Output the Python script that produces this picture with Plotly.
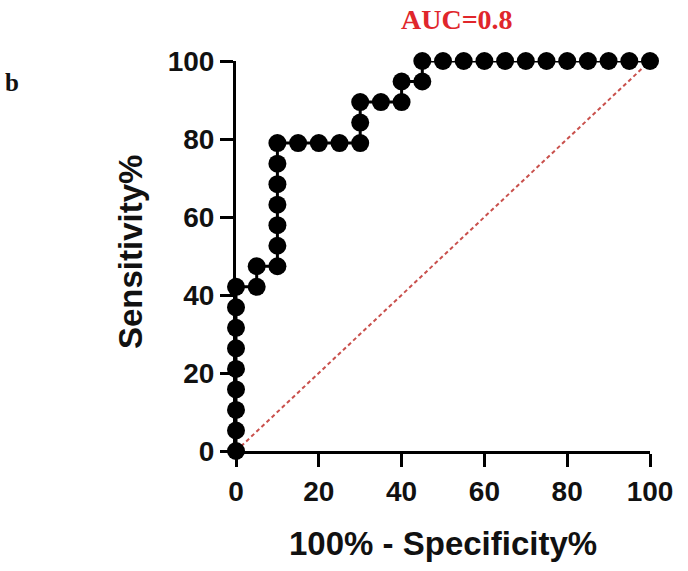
import plotly.graph_objects as go

# ROC curve points (100% - Specificity%, Sensitivity%)
fpr = [0, 0, 0, 0, 0, 0, 0, 0, 0,
       5, 5, 10, 10, 10, 10, 10, 10, 10,
       15, 20, 25, 30, 30, 30, 35, 40, 40, 45, 45,
       50, 55, 60, 65, 70, 75, 80, 85, 90, 95, 100]
tpr = [0, 5.26, 10.53, 15.79, 21.05, 26.32, 31.58, 36.84, 42.11,
       42.11, 47.37, 47.37, 52.63, 57.89, 63.16, 68.42, 73.68, 78.95,
       78.95, 78.95, 78.95, 78.95, 84.21, 89.47, 89.47, 89.47, 94.74, 94.74, 100,
       100, 100, 100, 100, 100, 100, 100, 100, 100, 100, 100]
ref_x = [0, 100]
ref_y = [0, 100]
tick_vals = [0, 20, 40, 60, 80, 100]
auc_text = "AUC=0.8"
panel_label = "b"

fig = go.Figure()
fig.add_trace(go.Scatter(x=ref_x, y=ref_y, mode="lines",
                         line=dict(color="#c9504c", width=2, dash="4px,3px"),
                         cliponaxis=False, showlegend=False))
fig.add_trace(go.Scatter(x=fpr, y=tpr, mode="lines+markers",
                         line=dict(color="black", width=3),
                         marker=dict(color="black", size=18),
                         cliponaxis=False, showlegend=False))

axis_common = dict(range=[0, 100], tickvals=tick_vals, showgrid=False, zeroline=False,
                   showline=True, linecolor="black", linewidth=3,
                   ticks="outside", ticklen=13, tickwidth=3, tickcolor="black",
                   tickfont=dict(family="Liberation Sans, Arial", size=28, color="#111",
                                 weight="bold"))
fig.update_xaxes(**axis_common)
fig.update_yaxes(**axis_common)

W, H = 414, 390
fig.update_layout(
    width=688, height=571,
    margin=dict(l=236, r=38, t=61, b=120),
    plot_bgcolor="white", paper_bgcolor="white",
    annotations=[
        dict(text="<b>100% - Specificity%</b>", xref="paper", yref="paper",
             x=(443 - 236) / W, y=-(543 - 451) / H, xanchor="center", yanchor="middle",
             showarrow=False, font=dict(family="Liberation Sans, Arial", size=33, color="#111")),
        dict(text="<b>Sensitivity%</b>", xref="paper", yref="paper", textangle=-90,
             x=-(236 - 130) / W, y=(451 - 252) / H, xanchor="center", yanchor="middle",
             showarrow=False, font=dict(family="Liberation Sans, Arial", size=33, color="#111")),
        dict(text="<b>" + auc_text + "</b>", xref="paper", yref="paper",
             x=(457 - 236) / W, y=(451 - 20) / H, xanchor="center", yanchor="middle",
             showarrow=False, font=dict(family="Liberation Serif, Times New Roman", size=28, color="#e0262b")),
        dict(text="<b>" + panel_label + "</b>", xref="paper", yref="paper",
             x=-(236 - 12) / W, y=(451 - 82) / H, xanchor="center", yanchor="middle",
             showarrow=False, font=dict(family="Liberation Serif, Times New Roman", size=25, color="#111")),
    ],
)
fig.write_html("out.html")
